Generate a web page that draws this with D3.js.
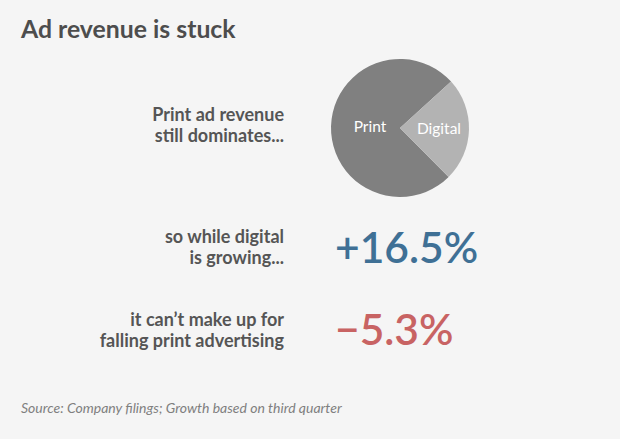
<!DOCTYPE html>
<html>
<head>
<meta charset="utf-8">
<script src="https://cdn.jsdelivr.net/npm/d3@7"></script>
<style>
  html, body { margin: 0; padding: 0; background: #f5f5f5; }
  svg { display: block; font-family: Lato, "Open Sans", sans-serif; }
</style>
</head>
<body>
<svg id="chart" width="620" height="439"></svg>
<script>
const title = "Ad revenue is stuck";
const source = "Source: Company filings; Growth based on third quarter";
const shareLabels = ["Print", "Digital"];
const shareValues = [75.7, 24.3];
const growthValues = [16.5, -5.3];
const rowTexts = [
  ["Print ad revenue", "still dominates..."],
  ["so while digital", "is growing..."],
  ["it can\u2019t make up for", "falling print advertising"]
];

const svg = d3.select("#chart");
svg.append("rect").attr("width", 620).attr("height", 439).attr("fill", "#f5f5f5");

svg.append("text")
  .attr("x", 21).attr("y", 38)
  .attr("font-size", 24.8).attr("font-weight", 700)
  .attr("fill", "#4d4d4d")
  .text(title);

// row labels
const rowY = d3.scaleOrdinal().domain([0, 1, 2]).range([121, 243, 326]);
rowTexts.forEach((lines, i) => {
  const t = svg.append("text")
    .attr("x", 284).attr("y", rowY(i))
    .attr("text-anchor", "end")
    .attr("font-size", 18).attr("font-weight", 700)
    .attr("fill", "#555555");
  lines.forEach((l, j) => {
    t.append("tspan").attr("x", 284).attr("dy", j === 0 ? 0 : 21).text(l);
  });
});

// pie
const cx = 400, cy = 128, r = 69;
const deg = Math.PI / 180;
const pie = d3.pie().sort(null).startAngle(135.2 * deg).endAngle(495.2 * deg);
const arcs = pie(shareValues);
const arc = d3.arc().innerRadius(0).outerRadius(r);
const colors = d3.scaleOrdinal().domain(shareLabels).range(["#808080", "#b3b3b3"]);
const g = svg.append("g").attr("transform", `translate(${cx},${cy})`);
g.selectAll("path").data(arcs).join("path")
  .attr("d", arc)
  .attr("fill", (d, i) => colors(shareLabels[i]));
const labelR = [30, 39];
g.selectAll("text").data(arcs).join("text")
  .attr("x", (d, i) => d3.arc().innerRadius(labelR[i]).outerRadius(labelR[i]).centroid(d)[0])
  .attr("y", (d, i) => d3.arc().innerRadius(labelR[i]).outerRadius(labelR[i]).centroid(d)[1] + 5)
  .attr("text-anchor", "middle")
  .attr("font-size", 15.5)
  .attr("fill", "#ffffff")
  .text((d, i) => shareLabels[i]);

// growth numbers
const fmt = v => (v >= 0 ? "+" : "\u2212") + Math.abs(v).toFixed(1) + "%";
const numY = [263, 345];
const numColor = v => v >= 0 ? "#3f7095" : "#c86363";
growthValues.forEach((v, i) => {
  svg.append("text")
    .attr("x", 335).attr("y", numY[i])
    .attr("font-size", 42.5).attr("font-weight", 600)
    .attr("fill", numColor(v))
    .text(fmt(v));
});

svg.append("text")
  .attr("x", 21).attr("y", 413)
  .attr("font-size", 14).attr("font-style", "italic")
  .attr("fill", "#7f7f7f")
  .text(source);
</script>
</body>
</html>
